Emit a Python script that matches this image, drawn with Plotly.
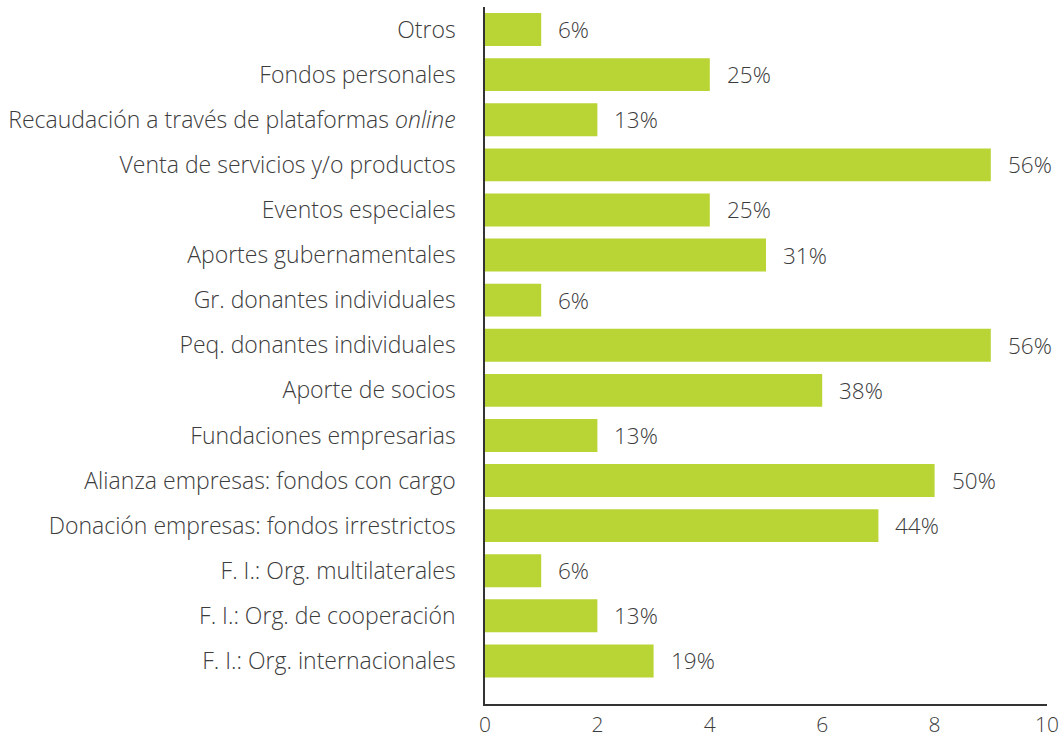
import plotly.graph_objects as go

categories = [
    "Otros",
    "Fondos personales",
    "Recaudación a través de plataformas <i>online</i>",
    "Venta de servicios y/o productos",
    "Eventos especiales",
    "Aportes gubernamentales",
    "Gr. donantes individuales",
    "Peq. donantes individuales",
    "Aporte de socios",
    "Fundaciones empresarias",
    "Alianza empresas: fondos con cargo",
    "Donación empresas: fondos irrestrictos",
    "F. I.: Org. multilaterales",
    "F. I.: Org. de cooperación",
    "F. I.: Org. internacionales",
]
values = [1, 4, 2, 9, 4, 5, 1, 9, 6, 2, 8, 7, 1, 2, 3]
percent_labels = ["6%", "25%", "13%", "56%", "25%", "31%", "6%", "56%", "38%",
                  "13%", "50%", "44%", "6%", "13%", "19%"]

BAR = "#b8d435"
TXT = "#3c3c3c"
FONT = dict(family="Open Sans", size=22.5, color=TXT, weight=300)
YFONT = dict(family="Open Sans", size=23, color=TXT, weight=300)
TICKFONT = dict(family="Open Sans", size=21, color=TXT, weight=300)

fig = go.Figure()
fig.add_trace(go.Bar(
    x=values, y=categories, orientation="h",
    marker=dict(color=BAR, line=dict(width=0)),
    hoverinfo="skip",
))

for c, v, t in zip(categories, values, percent_labels):
    fig.add_annotation(x=v, y=c, text=t, showarrow=False, xanchor="left",
                       yanchor="middle", xshift=15, yshift=0, font=FONT)

fig.update_layout(
    width=1060, height=737,
    margin=dict(l=485, r=13, t=7, b=33, autoexpand=False),
    paper_bgcolor="white", plot_bgcolor="white",
    bargap=0.27,
    showlegend=False,
    font=FONT,
)
fig.update_xaxes(
    range=[0, 10], dtick=2, tick0=0,
    showgrid=False, zeroline=False, automargin=False,
    showline=True, linecolor="#333333", linewidth=1.5,
    ticks="", ticklabelstandoff=1, tickfont=TICKFONT,
)
fig.update_yaxes(
    categoryorder="array", categoryarray=categories[::-1],
    range=[-0.955, 14.5], automargin=False,
    showgrid=False, zeroline=False,
    showline=True, linecolor="#333333", linewidth=1.5,
    ticks="", ticklabelstandoff=23, tickfont=YFONT,
)

fig.write_html("out.html",
               config={"displayModeBar": False},
               post_script="document.body.style.margin='0';document.body.style.overflow='hidden';")
